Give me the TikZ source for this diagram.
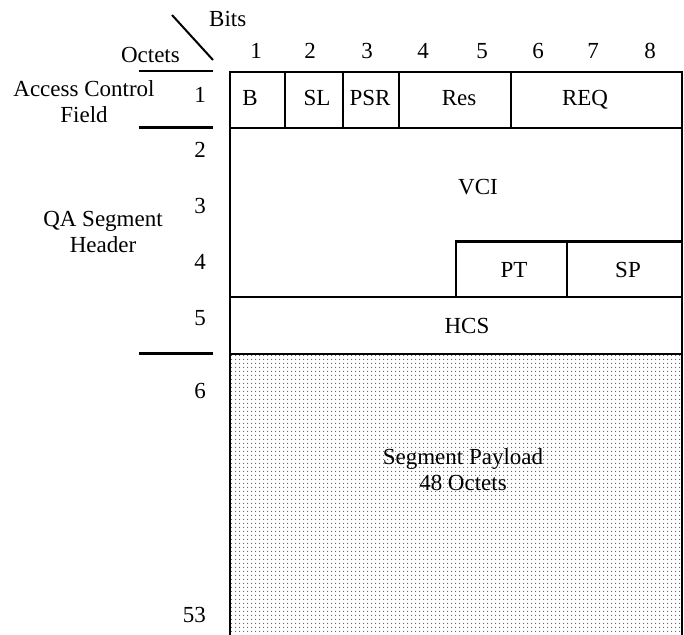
\documentclass[tikz,border=0pt]{standalone}
\usepackage{fontspec}
\setmainfont{Liberation Serif}
\usetikzlibrary{patterns.meta}
\tikzset{
  frame/.style={line width=2.4pt, line cap=rect},
  tick/.style={line width=2.4pt},
  lbl/.style={inner sep=0pt, font=\fontsize{23}{26}\selectfont},
  mlbl/.style={lbl, align=center},
  payload/.style={pattern={Dots[distance=4pt, radius=0.7pt]}, pattern color=black!65}
}
\begin{document}
\begin{tikzpicture}[x=1pt,y=-1pt]
\useasboundingbox (0,0) rectangle (684,634);
% payload pattern
\fill[payload] (230,354) rectangle (682,634);
% frame corners
\coordinate (tl) at (230,72);
\coordinate (tr) at (682,72);
\coordinate (bl) at (230,640);
\coordinate (br) at (682,640);
\draw[frame] (bl) -- (tl) -- (tr) -- (br);
% horizontal row lines
\draw[frame] (230,128) -- (682,128);
\draw[frame] (230,297) -- (682,297);
\draw[frame] (230,354) -- (682,354);
% row 1 dividers
\draw[frame] (285,72) -- (285,128);
\draw[frame] (343,72) -- (343,128);
\draw[frame] (399,72) -- (399,128);
\draw[frame] (511,72) -- (511,128);
% PT / SP box
\draw[frame] (456,297) -- (456,241.5) -- (682,241.5);
\draw[frame] (567,241.5) -- (567,297);
% left ticks
\draw[tick] (139,71) -- (213,71);
\draw[tick] (139,127.5) -- (213,127.5);
\draw[tick] (139,353.5) -- (213,353.5);
% diagonal
\coordinate (d1) at (172,15);
\coordinate (d2) at (213,60);
\draw[line width=2pt] (d1) -- (d2);
% headings
\node[lbl, anchor=base west] (bits) at (209,27) {Bits};
\node[lbl, anchor=base east] (octets) at (180,62) {Octets};
% bit numbers
\node[lbl, anchor=base] (b1) at (256,58) {1};
\node[lbl, anchor=base] (b2) at (310,58) {2};
\node[lbl, anchor=base] (b3) at (367,58) {3};
\node[lbl, anchor=base] (b4) at (423,58) {4};
\node[lbl, anchor=base] (b5) at (482,58) {5};
\node[lbl, anchor=base] (b6) at (538,58) {6};
\node[lbl, anchor=base] (b7) at (593,58) {7};
\node[lbl, anchor=base] (b8) at (650,58) {8};
% octet numbers
\node[lbl, anchor=base east] (o1) at (206,102) {1};
\node[lbl, anchor=base east] (o2) at (206,157) {2};
\node[lbl, anchor=base east] (o3) at (206,213) {3};
\node[lbl, anchor=base east] (o4) at (206,269) {4};
\node[lbl, anchor=base east] (o5) at (206,325) {5};
\node[lbl, anchor=base east] (o6) at (206,398) {6};
\node[lbl, anchor=base east] (o53) at (206,622) {53};
% side labels
\node[mlbl] (acf) at (84,102) {Access Control\\Field};
\node[mlbl] (qa) at (103,232) {QA Segment\\Header};
% field labels
\node[lbl, anchor=base] (fB) at (250,105) {B};
\node[lbl, anchor=base] (fSL) at (317,105) {SL};
\node[lbl, anchor=base] (fPSR) at (370,105) {PSR};
\node[lbl, anchor=base] (fRes) at (459,105) {Res};
\node[lbl, anchor=base] (fREQ) at (585,105) {REQ};
\node[lbl, anchor=base] (fVCI) at (478,194) {VCI};
\node[lbl, anchor=base] (fPT) at (514,277) {PT};
\node[lbl, anchor=base] (fSP) at (628,277) {SP};
\node[lbl, anchor=base] (fHCS) at (467,333) {HCS};
\node[mlbl] (fPay) at (463,470) {Segment Payload\\48 Octets};
\end{tikzpicture}
\end{document}
